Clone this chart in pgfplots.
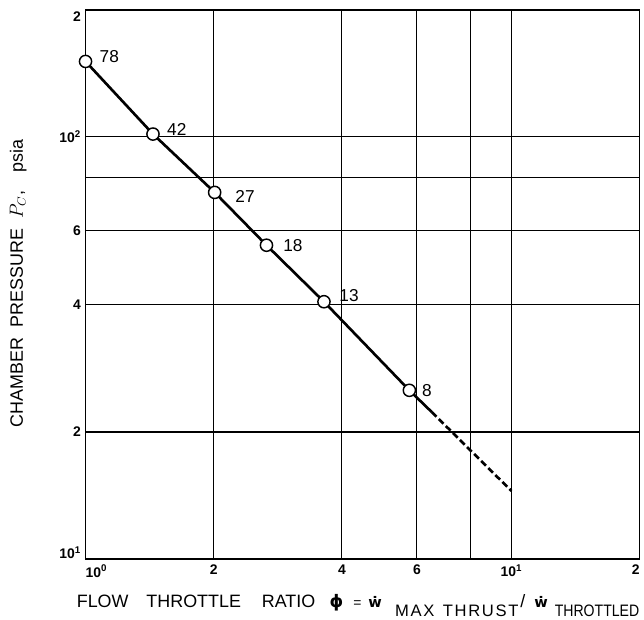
\documentclass[border=0pt]{standalone}
\usepackage{pgfplots}
\pgfplotsset{compat=1.18}
\usepackage{fontspec}
\setmainfont{Liberation Sans}
\newfontfamily\dejavu{DejaVu Sans}

\begin{document}
\begin{tikzpicture}
% page = 644 x 623 px, 1 px = 0.75pt, axis box lower left at origin
\begin{scope}[x=0.75pt,y=0.75pt]
\useasboundingbox (-86,-61) rectangle (558,562);
\end{scope}
\begin{axis}[
    xmode=log, ymode=log,
    scale only axis,
    width=417.75pt, height=414pt,
    xmin=1, xmax=20, ymin=10, ymax=200,
    xtick={1,2,4,6,8,10,20},
    xticklabels={\rlap{10\textsuperscript{0}},2,4,6,,10\textsuperscript{1},\llap{2}},
    ytick={10,20,40,60,80,100,200},
    yticklabels={\raisebox{0pt}[0pt][0pt]{10\textsuperscript{1}},2,4,6,,10\textsuperscript{2},\raisebox{-9pt}[0pt][0pt]{2}},
    xminorticks=false, yminorticks=false,
    major tick length=0pt,
    grid=major,
    grid style={black, line width=0.8pt},
    axis line style={black, line width=1.3pt},
    tick label style={font=\bfseries\fontsize{10.5}{12}\selectfont},
    xticklabel style={yshift=-1pt},
    clip=false,
]
% extrapolation beyond the last test point
\addplot[black, line width=2pt] coordinates {(5.76,25.1) (6.5,22.3)};
\addplot[black, line width=2pt, dash pattern=on 5pt off 2.5pt] coordinates {(6.5,22.3) (10,14.5)};
% measured points
\addplot[black, line width=2pt, mark=*, mark size=4.6pt,
    mark options={fill=white, draw=black, line width=1.1pt, solid}] coordinates {
    (1,151) (1.44,101.6) (2.01,73.9) (2.66,55.4) (3.63,40.7) (5.76,25.1)
};
\begin{scope}[every node/.style={font=\fontsize{13}{15}\selectfont, inner sep=0pt, anchor=west}]
\node[xshift=10.5pt, yshift=3.75pt] at (axis cs:1,151) {78};
\node[xshift=10.5pt, yshift=3.75pt] at (axis cs:1.44,101.6) {42};
\node[xshift=15.5pt, yshift=-3.4pt] at (axis cs:2.01,73.9) {27};
\node[xshift=12.5pt] at (axis cs:2.66,55.4) {18};
\node[xshift=11.5pt, yshift=4.5pt] at (axis cs:3.63,40.7) {13};
\node[xshift=9.5pt] at (axis cs:5.76,25.1) {8};
\end{scope}
\end{axis}
\begin{scope}[x=0.75pt,y=0.75pt, every node/.style={inner sep=0pt}]
% y label
\node[rotate=90, anchor=base west, font=\fontsize{13.5}{16}\selectfont] at (-63,132)
    {CHAMBER\hspace{8pt}PRESSURE\hspace{8pt}$P_C$,\hspace{14pt}psia};
% x label, piece by piece
\begin{scope}[every node/.append style={anchor=base west, font=\fontsize{13.5}{16}\selectfont}]
\node at (-9,-49) {FLOW};
\node at (61,-49) {THROTTLE};
\node at (177,-49) {RATIO};
\node[font=\dejavu\bfseries\fontsize{13}{16}\selectfont] at (245,-49) {ϕ};
\node[font=\fontsize{10.5}{12}\selectfont] at (269,-49) {=};
\node[font=\dejavu\bfseries\fontsize{11}{16}\selectfont] at (284,-49) {ẇ};
\node at (437,-49) {/};
\node[font=\dejavu\bfseries\fontsize{11}{16}\selectfont] at (451,-49) {ẇ};
\end{scope}
\begin{scope}[every node/.append style={anchor=base west, font=\fontsize{12.5}{15}\selectfont\addfontfeature{LetterSpace=10}}]
\node at (311,-58) {MAX};
\node at (359,-58) {THRUST};
\end{scope}
\node[anchor=base east, font=\fontsize{12.5}{15}\selectfont] at (557,-58) {\scalebox{0.85}[1]{THROTTLED}};
\end{scope}
\end{tikzpicture}
\end{document}
